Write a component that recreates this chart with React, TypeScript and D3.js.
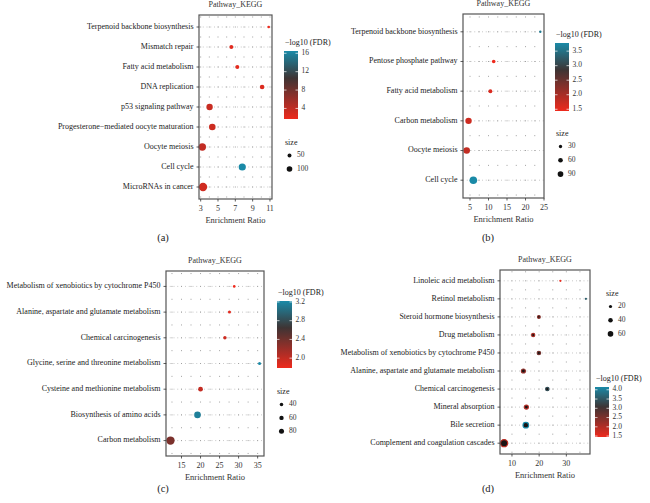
import React from "react";
import * as d3 from "d3";

// ---------- data ----------
const catA = ["Terpenoid backbone biosynthesis", "Mismatch repair", "Fatty acid metabolism", "DNA replication", "p53 signaling pathway", "Progesterone−mediated oocyte maturation", "Oocyte meiosis", "Cell cycle", "MicroRNAs in cancer"];
const ratioA = [10.85, 6.54, 7.23, 10.09, 4.03, 4.34, 3.19, 7.8, 3.27];
const sizeA = [22, 50, 50, 68, 130, 138, 175, 165, 225];
const fdrA = [1.7, 2.3, 2.2, 2.6, 3.6, 3.4, 3.9, 16.5, 3.2];
const xTicksA = [3, 5, 7, 9, 11];
const fdrTicksA = [4, 8, 12, 16];
const sizeBreaksA = [50, 100];

const catB = ["Terpenoid backbone biosynthesis", "Pentose phosphate pathway", "Fatty acid metabolism", "Carbon metabolism", "Oocyte meiosis", "Cell cycle"];
const ratioB = [24.0, 11.4, 10.5, 4.6, 4.1, 5.9];
const sizeB = [16, 36, 44, 114, 121, 160];
const fdrB = [3.6, 1.44, 1.6, 1.7, 1.8, 3.78];
const xTicksB = [5, 10, 15, 20, 25];
const fdrTicksB = [1.5, 2.0, 2.5, 3.0, 3.5];
const sizeBreaksB = [30, 60, 90];

const catC = ["Metabolism of xenobiotics by cytochrome P450", "Alanine, aspartate and glutamate metabolism", "Chemical carcinogenesis", "Glycine, serine and threonine metabolism", "Cysteine and methionine metabolism", "Biosynthesis of amino acids", "Carbon metabolism"];
const ratioC = [28.85, 27.6, 26.4, 35.5, 20.0, 19.2, 12.1];
const sizeC = [22, 29, 37, 29, 73, 139, 225];
const fdrC = [1.79, 1.85, 1.95, 3.22, 2.0, 3.15, 2.35];
const xTicksC = [15, 20, 25, 30, 35];
const fdrTicksC = [2.0, 2.4, 2.8, 3.2];
const sizeBreaksC = [40, 60, 80];

const catD = ["Linoleic acid metabolism", "Retinol metabolism", "Steroid hormone biosynthesis", "Drug metabolism", "Metabolism of xenobiotics by cytochrome P450", "Alanine, aspartate and glutamate metabolism", "Chemical carcinogenesis", "Mineral absorption", "Bile secretion", "Complement and coagulation cascades"];
const ratioD = [27.8, 37.2, 19.9, 17.8, 19.9, 14.2, 23.0, 15.3, 15.1, 7.1];
const sizeD = [9, 9, 31, 37, 41, 52, 41, 52, 89, 136];
const fdrD = [1.45, 3.6, 2.4, 2.1, 2.6, 2.3, 3.4, 2.0, 4.15, 1.9];
const xTicksD = [10, 20, 30];
const fdrTicksD = [1.5, 2.0, 2.5, 3.0, 3.5, 4.0];
const sizeBreaksD = [20, 40, 60];

// ---------- styles ----------
const FONT = "'Liberation Serif', 'DejaVu Serif', serif";
const COLOR_STOPS = ["#ee2a1d", "#3e3434", "#1a8aa7"];

type Layout = {
  x0: number; x1: number; y0: number; y1: number;
  cb: { x: number; y: number; w: number; h: number };
  sl: { x: number; y: number; dy: number };
  k: number; ring: boolean; caption: string; capX: number; capY: number;
};

type PanelProps = {
  id: string;
  cats: string[]; ratio: number[]; size: number[]; fdr: number[];
  xTicks: number[]; fdrTicks: number[]; sizeBreaks: number[];
  L: Layout;
};

function Panel({ id, cats, ratio, size, fdr, xTicks, fdrTicks, sizeBreaks, L }: PanelProps) {
  const [xmin, xmax] = d3.extent(ratio) as [number, number];
  const pad = (xmax - xmin) * 0.05;
  const x = d3.scaleLinear().domain([xmin - pad, xmax + pad]).range([L.x0, L.x1]);
  const y = d3.scalePoint<string>().domain(cats).range([L.y0, L.y1]).padding(0.6);
  const step = y.step();
  const [flo, fhi] = d3.extent(fdr) as [number, number];
  const color = d3.scaleLinear<string>()
    .domain([flo, flo + (fhi - flo) * 0.6, fhi])
    .range(COLOR_STOPS)
    .interpolate(d3.interpolateRgb)
    .clamp(true);
  const r = d3.scaleSqrt().domain([0, 100]).range([0, L.k * 10]);

  // grid columns: majors + minors
  const tStep = xTicks[1] - xTicks[0];
  const cols: number[] = [];
  for (let v = xTicks[0] - tStep; v <= xTicks[xTicks.length - 1] + tStep; v += tStep / 2) {
    const px = x(v);
    if (px > L.x0 + 1 && px < L.x1 - 1) cols.push(px);
  }
  const rowsMinor: number[] = [];
  for (let i = 0; i <= cats.length; i++) {
    const py = (y(cats[0]) as number) - step / 2 + i * step;
    if (py > L.y0 + 1 && py < L.y1 - 1) rowsMinor.push(py);
  }
  const rowsMajor = cats.map((c) => y(c) as number);

  const fy = d3.scaleLinear().domain([flo, fhi]).range([L.cb.y + L.cb.h, L.cb.y]);
  const gradStops = d3.range(0, 1.0001, 0.05);

  const order = d3.range(cats.length).sort((a, b) => size[b] - size[a]);

  return (
    <g fontFamily={FONT}>
      <defs>
        <linearGradient id={`grad-${id}`} x1="0" y1="1" x2="0" y2="0">
          {gradStops.map((t) => (
            <stop key={t} offset={t} stopColor={color(flo + t * (fhi - flo))} />
          ))}
        </linearGradient>
        <clipPath id={`clip-${id}`}>
          <rect x={L.x0} y={L.y0} width={L.x1 - L.x0} height={L.y1 - L.y0} />
        </clipPath>
      </defs>
      {/* title */}
      <text x={(L.x0 + L.x1) / 2} y={L.y0 - 10} fontSize={8} textAnchor="middle" dominantBaseline="middle" fill="#333">Pathway_KEGG</text>
      {/* grid */}
      <g clipPath={`url(#clip-${id})`}>
        {rowsMajor.map((py, i) => (
          <line key={"rm" + i} x1={L.x0} x2={L.x1} y1={py} y2={py} stroke="#aaa" strokeWidth={0.8} strokeDasharray="0.8 3" />
        ))}
        {rowsMinor.concat(rowsMajor).map((py, i) =>
          cols.map((px, j) => (
            <rect key={`d${i}-${j}`} x={px - 0.5} y={py - 0.5} width={1} height={1} fill="#a0a0a0" />
          ))
        )}
      </g>
      {/* points */}
      {order.map((i) => {
        const c = color(fdr[i]);
        const rr = r(size[i]);
        return L.ring ? (
          <circle key={"p" + i} cx={x(ratio[i])} cy={y(cats[i])} r={Math.max(rr - 0.6, 0.5)} fill="#1a1414" stroke={c} strokeWidth={1.2} />
        ) : (
          <circle key={"p" + i} cx={x(ratio[i])} cy={y(cats[i])} r={rr} fill={c} />
        );
      })}
      {/* box */}
      <rect x={L.x0} y={L.y0} width={L.x1 - L.x0} height={L.y1 - L.y0} fill="none" stroke="#555" strokeWidth={1.2} />
      {/* y axis */}
      {cats.map((c) => (
        <g key={c}>
          <line x1={L.x0 - 2.5} x2={L.x0} y1={y(c)} y2={y(c)} stroke="#333" strokeWidth={0.8} />
          <text x={L.x0 - 5.5} y={y(c) as number} fontSize={8} textAnchor="end" dominantBaseline="middle" fill="#222">{c}</text>
        </g>
      ))}
      {/* x axis */}
      {xTicks.map((t) => (
        <g key={t}>
          <line x1={x(t)} x2={x(t)} y1={L.y1} y2={L.y1 + 2.5} stroke="#333" strokeWidth={0.8} />
          <text x={x(t)} y={L.y1 + 10} fontSize={8} textAnchor="middle" dominantBaseline="middle" fill="#333">{t}</text>
        </g>
      ))}
      <text x={(L.x0 + L.x1) / 2} y={L.y1 + 22.5} fontSize={8.5} textAnchor="middle" dominantBaseline="middle" fill="#333">Enrichment Ratio</text>
      {/* colour bar */}
      <text x={L.cb.x + 1} y={L.cb.y - 8} fontSize={8} dominantBaseline="middle" fill="#222">−log10 (FDR)</text>
      <rect x={L.cb.x} y={L.cb.y} width={L.cb.w} height={L.cb.h} fill={`url(#grad-${id})`} />
      {fdrTicks.map((t) => (
        <g key={"f" + t}>
          <line x1={L.cb.x} x2={L.cb.x + 2.5} y1={fy(t)} y2={fy(t)} stroke="#fff" strokeWidth={0.7} />
          <line x1={L.cb.x + L.cb.w - 2.5} x2={L.cb.x + L.cb.w} y1={fy(t)} y2={fy(t)} stroke="#fff" strokeWidth={0.7} />
          <text x={L.cb.x + L.cb.w + 3.5} y={fy(t)} fontSize={7.5} dominantBaseline="middle" fill="#333">
            {fdrTicks.some((v) => !Number.isInteger(v)) ? t.toFixed(1) : t}
          </text>
        </g>
      ))}
      {/* size legend */}
      <text x={L.sl.x} y={L.sl.y} fontSize={8} dominantBaseline="middle" fill="#222">size</text>
      {sizeBreaks.map((s, i) => (
        <g key={"s" + s}>
          <circle cx={L.sl.x + 4.5} cy={L.sl.y + 12.5 + i * L.sl.dy} r={r(s)} fill="#111" />
          <text x={L.sl.x + 12} y={L.sl.y + 12.5 + i * L.sl.dy} fontSize={7.5} dominantBaseline="middle" fill="#333">{s}</text>
        </g>
      ))}
      {/* caption */}
      <text x={L.capX} y={L.capY} fontSize={10.5} textAnchor="middle" dominantBaseline="middle" fill="#222">{L.caption}</text>
    </g>
  );
}

const LA: Layout = { x0: 199, x1: 272, y0: 15, y1: 199, cb: { x: 284, y: 51, w: 14, h: 68 }, sl: { x: 285, y: 143, dy: 13.5 }, k: 0.28, ring: false, caption: "(a)", capX: 163, capY: 239 };
const LB: Layout = { x0: 463, x1: 544, y0: 14, y1: 198, cb: { x: 555, y: 43, w: 14, h: 68 }, sl: { x: 556, y: 134, dy: 13.8 }, k: 0.3, ring: false, caption: "(b)", capX: 488, capY: 239 };
const LC: Layout = { x0: 166, x1: 264, y0: 271, y1: 456, cb: { x: 277, y: 301, w: 15, h: 67 }, sl: { x: 277, y: 392, dy: 13.4 }, k: 0.28, ring: false, caption: "(c)", capX: 163, capY: 490 };
const LD: Layout = { x0: 500, x1: 590, y0: 270, y1: 454, cb: { x: 595, y: 387, w: 14, h: 50 }, sl: { x: 606, y: 294, dy: 13.7 }, k: 0.36, ring: true, caption: "(d)", capX: 488, capY: 490 };

export default function App() {
  return (
    <svg width={650} height={503} style={{ position: "absolute", left: 0, top: 0, background: "#fff" }}>
      <rect width={650} height={503} fill="#fff" />
      <Panel id="a" cats={catA} ratio={ratioA} size={sizeA} fdr={fdrA} xTicks={xTicksA} fdrTicks={fdrTicksA} sizeBreaks={sizeBreaksA} L={LA} />
      <Panel id="b" cats={catB} ratio={ratioB} size={sizeB} fdr={fdrB} xTicks={xTicksB} fdrTicks={fdrTicksB} sizeBreaks={sizeBreaksB} L={LB} />
      <Panel id="c" cats={catC} ratio={ratioC} size={sizeC} fdr={fdrC} xTicks={xTicksC} fdrTicks={fdrTicksC} sizeBreaks={sizeBreaksC} L={LC} />
      <Panel id="d" cats={catD} ratio={ratioD} size={sizeD} fdr={fdrD} xTicks={xTicksD} fdrTicks={fdrTicksD} sizeBreaks={sizeBreaksD} L={LD} />
    </svg>
  );
}
